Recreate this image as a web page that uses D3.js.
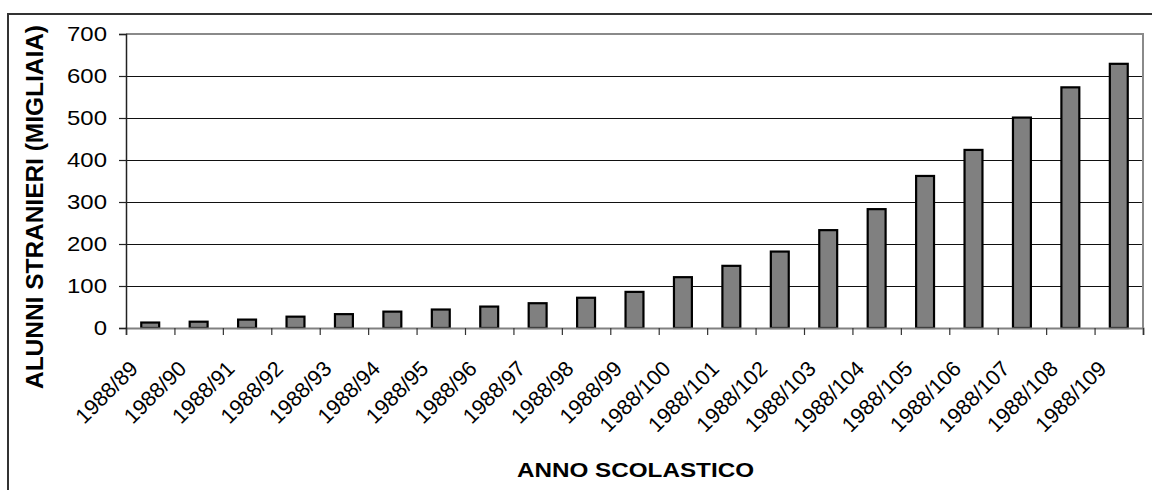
<!DOCTYPE html>
<html><head><meta charset="utf-8">
<script src="https://cdn.jsdelivr.net/npm/d3@7"></script>
<style>
body{margin:0;background:#fff}
svg{display:block}
text{font-family:"Liberation Sans",Arial,Helvetica,sans-serif;fill:#000}
</style>
</head><body>
<svg id="c" width="1152" height="490"></svg>
<script>
const categories = ["1988/89","1988/90","1988/91","1988/92","1988/93","1988/94","1988/95","1988/96","1988/97","1988/98","1988/99","1988/100","1988/101","1988/102","1988/103","1988/104","1988/105","1988/106","1988/107","1988/108","1988/109"];
const values = [13,15,20,27,33,39,44,51,59,72,86,121,148,182,233,283,362,424,501,573,629];
const yTicks = [0,100,200,300,400,500,600,700];
const yTitle = "ALUNNI STRANIERI (MIGLIAIA)";
const xTitle = "ANNO SCOLASTICO";

const svg = d3.select("#c");
const W = 1152, H = 490;
const m = {left:126, right:1143, top:34, bottom:328};

// outer frame
svg.append("rect").attr("x",8).attr("y",14).attr("width",W+20).attr("height",H+20)
  .attr("fill","none").attr("stroke","#333").attr("stroke-width",2);

const x = d3.scaleBand().domain(categories).range([m.left,m.right]).padding(0);
const xb = d3.scaleLinear().domain([0,categories.length]).range([m.left,m.right]);
const y = d3.scaleLinear().domain([0,700]).range([m.bottom,m.top]);

// gridlines
const grid = svg.append("g").attr("transform",`translate(${m.left},0)`)
  .call(d3.axisLeft(y).tickValues(yTicks.filter(v=>v>0 && v<700)).tickSize(-(m.right-m.left)).tickFormat(""));
grid.select(".domain").remove();
grid.selectAll("line").attr("stroke","#111").attr("stroke-width",1);

// plot border top/right
svg.append("path")
  .attr("d",`M${m.left},${y(700)}H${m.right}V${y(0)}`)
  .attr("fill","none").attr("stroke","#8a8a8a").attr("stroke-width",2);

// bars
const bw = x.bandwidth()*0.37;
svg.append("g").selectAll("rect").data(values).join("rect")
  .attr("x",(d,i)=>x(categories[i])+x.bandwidth()/2-bw/2)
  .attr("y",d=>y(d))
  .attr("width",bw)
  .attr("height",d=>y(0)-y(d))
  .attr("fill","#808080").attr("stroke","#000").attr("stroke-width",2.2);

// x ticks at boundaries
const xt = svg.append("g").attr("transform",`translate(0,${m.bottom})`)
  .call(d3.axisBottom(xb).tickValues(d3.range(categories.length+1)).tickSize(7).tickFormat(""));
xt.select(".domain").attr("stroke","#808080").attr("stroke-width",2);
xt.selectAll("line").attr("stroke","#333").attr("stroke-width",1.2);

// x labels
const xl = svg.append("g").attr("transform",`translate(0,${m.bottom})`)
  .call(d3.axisBottom(x).tickSize(0));
xl.select(".domain").remove();
xl.selectAll("text")
  .attr("x",0).attr("y",0).attr("dy",0)
  .attr("text-anchor","end")
  .attr("transform","translate(-11,42) rotate(-45)")
  .style("font-size","21.5px");

// y axis
const ya = svg.append("g").attr("transform",`translate(${m.left},0)`)
  .call(d3.axisLeft(y).tickValues(yTicks).tickSize(7).tickPadding(12));
ya.select(".domain").attr("stroke","#222").attr("stroke-width",1.5);
ya.selectAll("line").attr("stroke","#222").attr("stroke-width",1.2);
ya.selectAll("text").style("font-size","21px").each(function(){
  const L = this.getComputedTextLength();
  d3.select(this).attr("textLength",L*1.14).attr("lengthAdjust","spacingAndGlyphs");
});

// titles
svg.append("text").attr("x",635.5).attr("y",477).attr("text-anchor","middle")
  .style("font-size","21px").style("font-weight","bold")
  .attr("textLength",237).attr("lengthAdjust","spacingAndGlyphs").text(xTitle);
svg.append("text").attr("transform","translate(43,207) rotate(-90)").attr("text-anchor","middle")
  .style("font-size","23px").style("font-weight","bold")
  .attr("textLength",364).attr("lengthAdjust","spacingAndGlyphs").text(yTitle);
</script>
</body></html>
